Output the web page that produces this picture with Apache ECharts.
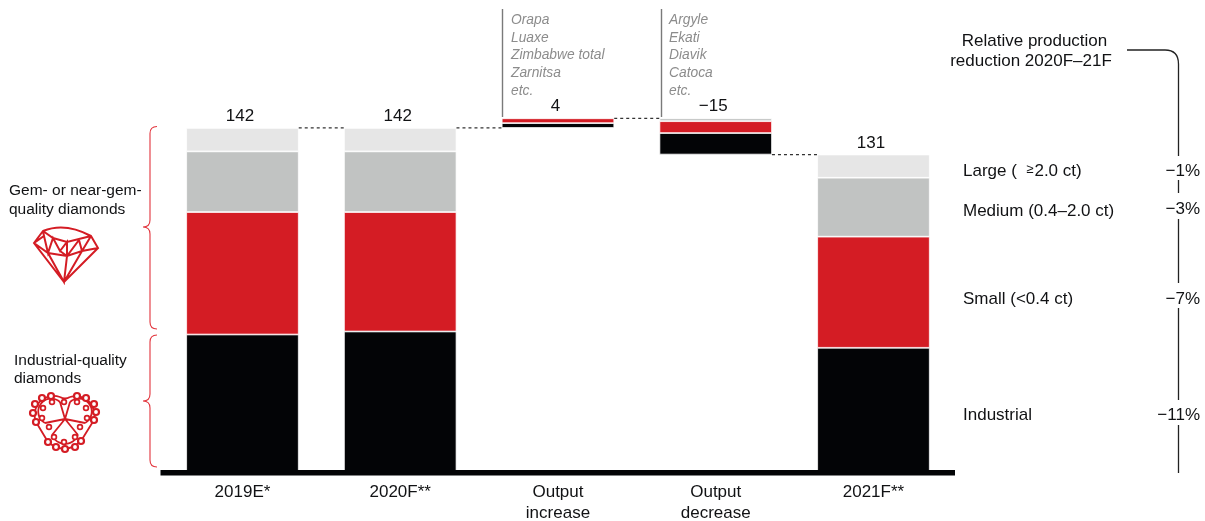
<!DOCTYPE html>
<html>
<head>
<meta charset="utf-8">
<style>html,body{margin:0;padding:0;background:#fff}#chart{width:1205px;height:521px}</style>
<script src="https://cdn.jsdelivr.net/npm/echarts@6/dist/echarts.min.js"></script>
</head>
<body>
<div id="chart"></div>
<script>
// Rough-diamond supply bridge, million carats
const categories = ['2019E*', '2020F**', 'Output\nincrease', 'Output\ndecrease', '2021F**'];
const bridgeBase = ['-', '-', 142, 131, '-'];
const industrial = [56.5, 57.75, 2.0, 8.9, 51.0];
const small = [50.7, 49.45, 2.0, 4.9, 46.0];
const medium = [25.1, 25.1, '-', 1.2, 24.4];
const large = [9.7, 9.7, '-', '-', 9.6];
const barTops = [142, 142, 146, 146, 131];
const barLabels = ['142', '142', '4', '−15', '131'];
const connectorLevels = [142, 142, 146, 131];
const sizeClasses = ['Large', 'Medium (0.4–2.0 ct)', 'Small (<0.4 ct)', 'Industrial'];
const reductions = ['−1%', '−3%', '−7%', '−11%'];
const increaseMines = ['Orapa', 'Luaxe', 'Zimbabwe total', 'Zarnitsa', 'etc.'];
const decreaseMines = ['Argyle', 'Ekati', 'Diavik', 'Catoca', 'etc.'];

const FONT = '"Liberation Sans", Arial, sans-serif';
const INK = '#111214';
const RED = '#d41c24';
const BAR_WIDTH = 112.5;

function stacked(name, data, color) {
  return {
    name, type: 'bar', stack: 'supply', data, barWidth: BAR_WIDTH,
    itemStyle: { color, borderColor: '#fff', borderWidth: 0.75 }, silent: true
  };
}

function text(x, y, value, opts) {
  return {
    type: 'text', x, y, z: 20, silent: true,
    style: Object.assign({
      text: value, fill: INK, font: '17px ' + FONT, align: 'left', verticalAlign: 'middle'
    }, opts || {})
  };
}

// The graphic component has no generic path type, so each outline is registered as its own shape
let shapeCount = 0;
function stroke(pathData, color, width) {
  const type = 'outline' + (shapeCount++);
  echarts.graphic.registerShape(type, echarts.graphic.extendPath(pathData, {}));
  return {
    type, z: 15, silent: true,
    style: { stroke: color, fill: null, lineWidth: width }
  };
}

function brace(top, tip, bottom) {
  const r = 7;
  return stroke(
    `M157 ${top} Q150 ${top} 150 ${top + r} V${tip - r} Q150 ${tip} 143 ${tip} ` +
    `Q150 ${tip} 150 ${tip + r} V${bottom - r} Q150 ${bottom} 157 ${bottom}`, '#e2343c', 1.1);
}

// Cut-stone pictogram for the gem-quality group
function gemIcon() {
  return stroke(
    'M34 243 L43 231 Q65 222 91 236 L98 248 L64 282 Z ' +
    'M43 231 L53 238 L67 242 L91 236 ' +
    'M34 243 L48 253 L67 256 L82 251 L98 248 ' +
    'M34 243 L44 236 L48 253 L53 238 L60 251 L67 242 L67 256 L79 240 L82 251 L91 236 ' +
    'M60 251 L67 256 M48 253 L64 282 L67 256 M64 282 L82 251 M43 231 L44 236', RED, 2);
}

// Three-lobed bort pictogram for the industrial group
function bortIcon() {
  const beads = [
    [33, 413], [35, 404], [42, 398], [51, 396], [77, 396], [86, 398], [94, 404], [96, 412], [94, 420],
    [36, 422], [48, 442], [56, 447], [65, 449], [75, 447], [81, 441],
    [64, 402], [52, 402], [77, 402], [43, 408], [86, 408], [42, 418], [87, 418],
    [49, 427], [80, 427], [54, 437], [64, 442], [75, 437]
  ];
  const circles = beads.map(([cx, cy], i) => ({
    type: 'circle', z: 16, silent: true,
    shape: { cx, cy, r: i < 15 ? 3 : 2.4 },
    style: { fill: '#fff', stroke: RED, lineWidth: i < 15 ? 2.2 : 1.7 }
  }));
  const wires = stroke(
    'M65 419 L60 402 M65 419 L70 402 M65 419 L45 423 M65 419 L85 423 M65 419 L52 435 M65 419 L78 435 ' +
    'M60 402 A13 13 0 1 0 45 423 M70 402 A13 13 0 1 1 85 423 M52 435 A14 14 0 0 0 78 435 ' +
    'M36 422 A19 19 0 0 1 60 397 M70 397 A19 19 0 0 1 94 420 M60 397 Q65 400 70 397 M48 442 Q65 456 81 441 ' +
    'M36 422 L48 442 M94 420 L81 441', RED, 1.8);
  return [wires].concat(circles);
}

const graphics = [
  // Heavy baseline running past the outer bars
  { type: 'rect', z: 12, silent: true, shape: { x: 160.5, y: 470, width: 794.5, height: 5.5 }, style: { fill: '#030406' } },
  brace(126.5, 227, 329),
  brace(335, 401, 467),
  text(9, 191, 'Gem- or near-gem-', { font: '15.5px ' + FONT }),
  text(9, 210, 'quality diamonds', { font: '15.5px ' + FONT }),
  text(14, 361, 'Industrial-quality', { font: '15.5px ' + FONT }),
  text(14, 379, 'diamonds', { font: '15.5px ' + FONT }),
  gemIcon(),
  ...bortIcon(),
  stroke('M502.5 9 V117 M661.5 9 V117', '#7a7a7a', 1.4),
  ...increaseMines.map((m, i) => text(511, 20 + i * 17.7, m, { font: 'italic 13.8px ' + FONT, fill: '#8c8c8c' })),
  ...decreaseMines.map((m, i) => text(669, 20 + i * 17.7, m, { font: 'italic 13.8px ' + FONT, fill: '#8c8c8c' })),
  text(1034.5, 41, 'Relative production', { align: 'center' }),
  text(1031, 61, 'reduction 2020F–21F', { align: 'center' }),
  stroke('M1127 50 H1165 Q1178.5 50 1178.5 64 V156 M1178.5 180 V193 M1178.5 219 V283 M1178.5 308 V400 M1178.5 425 V473', '#222', 1.3),
  {
    type: 'text', x: 963, y: 171, z: 20, silent: true,
    style: {
      text: '{a|' + sizeClasses[0] + ' (  }{b|≥}{a|2.0 ct)}',
      verticalAlign: 'middle', align: 'left',
      rich: {
        a: { font: '17px ' + FONT, fill: INK },
        b: { font: '13px ' + FONT, fill: INK, padding: [0, 1, 3, 0] }
      }
    }
  },
  text(963, 211, sizeClasses[1]),
  text(963, 299, sizeClasses[2]),
  text(963, 415, sizeClasses[3]),
  ...[171, 209, 299, 415].map((y, i) => text(1200, y, reductions[i], { align: 'right' }))
];

const chart = echarts.init(document.getElementById('chart'), null, { renderer: 'canvas' });
chart.setOption({
  animation: false,
  backgroundColor: '#fff',
  grid: { left: 163.6, width: 788.75, top: 12, height: 459, containLabel: false, outerBoundsMode: 'none' },
  xAxis: {
    type: 'category', data: categories,
    axisLine: { show: false }, axisTick: { show: false },
    axisLabel: { color: INK, fontFamily: FONT, fontSize: 17, lineHeight: 21, margin: 10.5, interval: 0 }
  },
  yAxis: { type: 'value', min: 0, max: 190, show: false, splitLine: { show: false } },
  series: [
    { name: 'Bridge base', type: 'bar', stack: 'supply', data: bridgeBase, barWidth: BAR_WIDTH, silent: true,
      itemStyle: { color: 'transparent' } },
    stacked('Industrial', industrial, '#030406'),
    stacked('Small', small, '#d41c24'),
    stacked('Medium', medium, '#c1c3c2'),
    stacked('Large', large, '#e6e6e6'),
    {
      name: 'Totals', type: 'scatter', data: barTops, symbolSize: 0, silent: true,
      itemStyle: { opacity: 1 },
      label: {
        show: true, position: 'top', distance: 3, offset: [-2.5, 0], color: INK, opacity: 1,
        fontFamily: FONT, fontSize: 17,
        formatter: p => barLabels[p.dataIndex]
      }
    },
    {
      name: 'Connectors', type: 'custom', silent: true, z: 5,
      data: connectorLevels.map((v, i) => [i, v]),
      encode: { x: 0, y: 1 },
      renderItem(params, api) {
        const i = api.value(0);
        const start = api.coord([i, api.value(1)]);
        const end = api.coord([i + 1, api.value(1)]);
        const half = BAR_WIDTH / 2;
        return {
          type: 'line',
          shape: { x1: start[0] + half, y1: start[1], x2: end[0] - half, y2: end[1] },
          style: { stroke: '#333', lineWidth: 1.3, lineDash: [3, 3] }
        };
      }
    }
  ],
  graphic: { elements: graphics }
});
</script>
</body>
</html>
